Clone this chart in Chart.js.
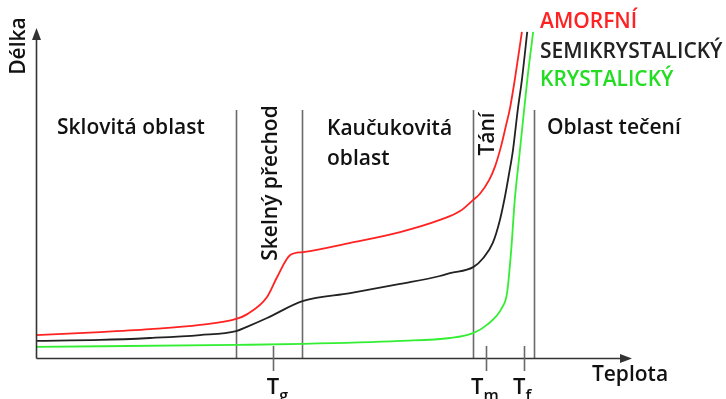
<!DOCTYPE html>
<html>
<head>
<meta charset="utf-8">
<script src="https://cdn.jsdelivr.net/npm/chart.js@4/dist/chart.umd.min.js"></script>
<style>
  html, body { margin: 0; padding: 0; background: #fff; }
  #wrap { width: 726px; height: 399px; position: relative; }
</style>
</head>
<body>
<div id="wrap"><canvas id="c" width="726" height="399"></canvas></div>
<script>
// Thermomechanical curves: length vs. temperature (arbitrary units 0..100)
const amorfX = [0, 10.8, 19.2, 27.6, 33.7, 35.5, 38.9, 40.6, 42.8, 45.0, 52.9, 61.3, 68.0, 71.4, 73.6, 74.7, 76.3, 77.3, 78.3, 79.1, 79.8, 80.6, 81.8];
const amorfY = [7.0, 7.9, 8.8, 10.1, 11.9, 13.3, 18.6, 24.7, 31.4, 32.3, 35.1, 38.4, 42.1, 44.8, 48.2, 50.0, 54.3, 58.5, 64.6, 70.7, 76.2, 84.8, 99.4];

const semiX = [0, 10.8, 19.2, 27.6, 33.7, 35.5, 38.9, 45.0, 52.9, 61.3, 68.0, 69.7, 73.6, 75.3, 76.9, 78.1, 79.0, 79.6, 80.3, 81.1, 81.8, 82.7];
const semiY = [5.2, 5.5, 6.1, 7.0, 8.2, 9.5, 12.2, 17.4, 19.8, 22.6, 25.0, 25.9, 27.7, 30.5, 35.1, 42.1, 49.7, 55.8, 63.4, 75.6, 84.8, 99.4];

const krystX = [0, 33.7, 45.0, 61.3, 69.7, 73.6, 75.9, 78.5, 79.3, 80.0, 80.6, 81.3, 82.0, 82.8, 83.7];
const krystY = [3.4, 4.0, 4.3, 5.2, 6.1, 7.6, 10.1, 15.5, 19.8, 32.9, 48.2, 60.4, 72.6, 86.3, 99.4];

// Region boundaries and characteristic temperatures
const regionLines = [33.7, 44.8, 73.6, 83.8];
const tempTickX = [39.9, 75.8, 82.2];
const tempTickSub = ['g', 'm', 'f'];
const seriesNames = ['AMORFNÍ', 'SEMIKRYSTALICKÝ', 'KRYSTALICKÝ'];
const seriesColors = ['#ff2222', '#222222', '#33ee33'];

const pts = (xs, ys) => xs.map((x, i) => ({ x, y: ys[i] }));

const FONT = '"Open Sans", Lato, sans-serif';
// horizontal shift of each "T" glyph relative to its tick
const tLabelShift = [0, -9, -5];

const decor = {
  id: 'decor',
  beforeDatasetsDraw(chart) {
    const { ctx, chartArea: a, scales: { x } } = chart;
    ctx.save();
    // region separators
    ctx.strokeStyle = '#6a6a6a';
    ctx.lineWidth = 1.6;
    regionLines.forEach(v => {
      const px = Math.round(x.getPixelForValue(v)) + 0.5;
      ctx.beginPath();
      ctx.moveTo(px, 110);
      ctx.lineTo(px, a.bottom);
      ctx.stroke();
    });
    ctx.restore();
  },
  afterDatasetsDraw(chart) {
    const { ctx, chartArea: a, scales: { x } } = chart;
    ctx.save();
    // axes with arrows
    ctx.strokeStyle = '#333';
    ctx.fillStyle = '#333';
    ctx.lineWidth = 1.6;
    const ox = a.left + 0.5, oy = a.bottom + 0.5;
    ctx.beginPath();
    ctx.moveTo(ox, oy);
    ctx.lineTo(ox, a.top + 6);
    ctx.moveTo(ox, oy);
    ctx.lineTo(a.right - 6, oy);
    ctx.stroke();
    ctx.beginPath();
    ctx.moveTo(ox, a.top - 2);
    ctx.lineTo(ox - 4.5, a.top + 10);
    ctx.lineTo(ox + 4.5, a.top + 10);
    ctx.closePath();
    ctx.fill();
    ctx.beginPath();
    ctx.moveTo(a.right + 2, oy);
    ctx.lineTo(a.right - 10, oy - 4.5);
    ctx.lineTo(a.right - 10, oy + 4.5);
    ctx.closePath();
    ctx.fill();

    // characteristic temperature ticks
    ctx.strokeStyle = '#6a6a6a';
    ctx.lineWidth = 1.6;
    tempTickX.forEach(v => {
      const px = Math.round(x.getPixelForValue(v)) + 0.5;
      ctx.beginPath();
      ctx.moveTo(px, a.bottom - 12);
      ctx.lineTo(px, a.bottom + 13);
      ctx.stroke();
    });
    ctx.fillStyle = '#111';
    ctx.textBaseline = 'alphabetic';
    ctx.textAlign = 'left';
    tempTickX.forEach((v, i) => {
      const px = x.getPixelForValue(v);
      ctx.font = '600 22px ' + FONT;
      const w = ctx.measureText('T').width;
      const tx = px + tLabelShift[i] - w / 2;
      ctx.fillText('T', tx, 394);
      ctx.font = '600 16px ' + FONT;
      ctx.fillText(tempTickSub[i], tx + w, 401);
    });

    // axis titles
    ctx.font = '600 21px ' + FONT;
    ctx.textAlign = 'center';
    ctx.textBaseline = 'middle';
    ctx.fillText('Teplota', 630, 375);
    ctx.save();
    ctx.translate(19, 46);
    ctx.rotate(-Math.PI / 2);
    ctx.fillText('Délka', 0, 0);
    ctx.restore();

    // region labels
    ctx.font = '600 21px ' + FONT;
    ctx.textAlign = 'left';
    ctx.textBaseline = 'alphabetic';
    ctx.fillText('Sklovitá oblast', 57, 134);
    ctx.fillText('Kaučukovitá', 327, 135);
    ctx.fillText('oblast', 327, 165);
    ctx.fillText('Oblast tečení', 547, 134);
    ctx.textAlign = 'center';
    ctx.textBaseline = 'middle';
    ctx.save();
    ctx.translate(271, 183);
    ctx.rotate(-Math.PI / 2);
    ctx.fillText('Skelný přechod', 0, 0);
    ctx.restore();
    ctx.save();
    ctx.translate(488, 134);
    ctx.rotate(-Math.PI / 2);
    ctx.fillText('Tání', 0, 0);
    ctx.restore();

    // series names
    ctx.font = '600 21px ' + FONT;
    ctx.textAlign = 'left';
    ctx.textBaseline = 'middle';
    const ly = [22, 52, 80];
    seriesNames.forEach((n, i) => {
      ctx.fillStyle = seriesColors[i] === '#33ee33' ? '#22dd22' : seriesColors[i];
      ctx.fillText(n, 540, ly[i]);
    });
    ctx.restore();
  }
};

const ds = (label, xs, ys, color) => ({
  label,
  data: pts(xs, ys),
  borderColor: color,
  borderWidth: 1.8,
  pointRadius: 0,
  fill: false,
  cubicInterpolationMode: 'monotone'
});

new Chart(document.getElementById('c'), {
  type: 'line',
  data: {
    datasets: [
      ds(seriesNames[2], krystX, krystY, seriesColors[2]),
      ds(seriesNames[1], semiX, semiY, seriesColors[1]),
      ds(seriesNames[0], amorfX, amorfY, seriesColors[0])
    ]
  },
  options: {
    responsive: false,
    animation: false,
    layout: { padding: { left: 36, right: 96, top: 30, bottom: 41 } },
    scales: {
      x: { type: 'linear', min: 0, max: 100, display: false },
      y: { type: 'linear', min: 0, max: 100, display: false }
    },
    plugins: { legend: { display: false }, tooltip: { enabled: false } }
  },
  plugins: [decor]
});
</script>
</body>
</html>
